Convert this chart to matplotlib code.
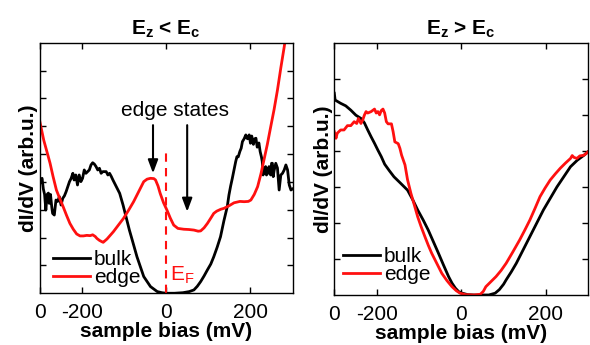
import matplotlib
matplotlib.use("Agg")
import matplotlib.pyplot as plt

plt.rcParams['font.family'] = ['Liberation Sans', 'DejaVu Sans']
plt.rcParams['mathtext.fontset'] = 'custom'
plt.rcParams['mathtext.rm'] = 'Liberation Sans'
plt.rcParams['mathtext.bf'] = 'Liberation Sans:bold'
plt.rcParams['mathtext.it'] = 'Liberation Sans:italic'

# ---------------- data: left panel (Ez < Ec) ----------------
bulk_left_x = [-300, -297, -294, -291, -288, -285, -282, -279, -277, -274, -271, -269, -265,
               -261, -257, -253, -249, -245, -241, -237, -233, -229, -225, -221, -218, -214,
               -210, -206, -202, -198, -194, -190, -186, -182, -178, -174, -170, -166, -162,
               -158, -154, -150, -146, -142, -138, -134, -130, -126, -118, -110, -102, -95,
               -87, -80, -69, -53, -37, -21, -10, 0, 20, 40, 55, 66, 74, 82, 90, 98, 106,
               113, 121, 129, 137, 145, 149, 153, 157, 161, 165, 168, 171, 175, 178, 181,
               185, 189, 191, 193, 197, 200, 203, 207, 210, 213, 216, 220, 223, 226, 228,
               230, 232, 236, 238, 240, 244, 246, 248, 250, 252, 254, 256, 260, 264, 268,
               272, 276, 280, 284, 288, 292, 296, 300]
bulk_left_y = [3.90, 4.05, 4.13, 3.75, 3.55, 2.99, 3.55, 3.60, 3.23, 3.55, 3.10, 2.87, 2.81,
               3.35, 3.30, 3.47, 3.17, 3.41, 3.50, 3.65, 3.83, 4.01, 4.13, 4.31, 4.07, 4.25,
               3.89, 4.25, 4.01, 4.13, 4.43, 4.31, 4.37, 4.43, 4.61, 4.69, 4.64, 4.55, 4.43,
               4.49, 4.31, 4.37, 4.37, 4.37, 4.25, 4.31, 4.20, 4.07, 3.83, 3.59, 3.17, 2.75,
               2.27, 1.90, 1.31, 0.60, 0.24, 0.06, 0.02, 0.00, 0.00, 0.02, 0.06, 0.12, 0.25,
               0.42, 0.62, 0.84, 1.05, 1.31, 1.65, 2.03, 2.60, 3.11, 3.53, 3.85, 4.13, 4.43,
               4.73, 4.91, 4.90, 5.10, 5.21, 5.45, 5.55, 5.69, 5.60, 5.55, 5.69, 5.39, 5.65,
               5.35, 5.55, 5.57, 5.25, 5.40, 5.09, 4.90, 4.73, 4.25, 4.40, 4.55, 4.25, 4.30,
               4.55, 4.30, 4.25, 4.67, 4.67, 4.19, 4.40, 4.67, 4.50, 3.71, 4.25, 4.31, 4.43,
               4.61, 4.43, 3.89, 3.71, 3.75]

edge_left_x = [-300, -290, -280, -275, -268, -260, -252, -244, -236, -228, -220, -212, -204,
               -196, -188, -180, -174, -168, -164, -158, -152, -149, -140, -125, -113, -101,
               -89, -77, -65, -53, -45, -37, -29, -25, -19, -14, -6, 2, 10, 18, 28, 42, 54,
               66, 76, 82, 90, 98, 106, 113, 120, 130, 137, 150, 161, 175, 185, 195, 201,
               209, 217, 225, 232, 240, 248, 256, 264, 272, 280, 288, 300]
edge_left_y = [6.22, 5.50, 4.95, 4.67, 4.20, 3.71, 3.40, 3.11, 2.80, 2.51, 2.30, 2.13, 2.06,
               2.06, 2.08, 2.07, 2.10, 2.04, 1.97, 1.90, 1.85, 1.83, 1.95, 2.21, 2.45, 2.69,
               2.98, 3.29, 3.65, 4.01, 4.10, 4.13, 4.12, 4.07, 3.85, 3.59, 3.25, 2.99, 2.70,
               2.45, 2.33, 2.30, 2.29, 2.27, 2.23, 2.24, 2.35, 2.51, 2.70, 2.87, 2.95, 3.02,
               3.05, 3.15, 3.25, 3.30, 3.29, 3.30, 3.35, 3.55, 3.83, 4.30, 4.79, 5.35, 5.98,
               6.60, 7.30, 8.10, 8.85, 9.70, 11.20]

# ---------------- data: right panel (Ez > Ec) ----------------
bulk_right_x = [-300, -298, -285, -273, -261, -249, -237, -229, -221, -213, -205, -197, -189,
                -181, -170, -159, -145, -127, -115, -103, -90, -78, -66, -54, -42, -30, -22,
                -14, -6, 2, 15, 30, 50, 65, 80, 90, 100, 106, 118, 130, 146, 162, 178, 194,
                210, 226, 242, 258, 274, 290, 300]
bulk_right_y = [5.60, 5.41, 5.32, 5.25, 5.13, 4.99, 4.90, 4.78, 4.58, 4.39, 4.21, 4.02, 3.84,
                3.63, 3.45, 3.28, 3.12, 2.91, 2.65, 2.36, 2.08, 1.80, 1.48, 1.16, 0.83, 0.51,
                0.33, 0.19, 0.09, 0.05, 0.01, 0.00, 0.00, 0.00, 0.05, 0.15, 0.30, 0.42, 0.64,
                0.88, 1.25, 1.62, 1.99, 2.36, 2.68, 3.00, 3.28, 3.56, 3.74, 3.88, 3.98]

edge_right_x = [-300, -296, -293, -285, -277, -269, -261, -253, -247, -243, -237, -233, -229,
                -225, -221, -213, -205, -201, -197, -193, -189, -185, -181, -177, -173, -165,
                -161, -157, -149, -145, -141, -133, -127, -119, -111, -103, -95, -86, -78,
                -70, -58, -46, -34, -22, -12, -3, 10, 30, 45, 52, 58, 70, 82, 94, 106, 122,
                138, 150, 162, 174, 186, 198, 210, 222, 234, 246, 258, 262, 266, 273, 280,
                290, 300]
edge_right_y = [4.53, 4.35, 4.49, 4.58, 4.58, 4.70, 4.70, 4.81, 4.76, 4.90, 4.76, 4.85, 4.99,
                5.09, 5.05, 5.09, 5.16, 5.05, 5.09, 5.00, 5.12, 5.16, 5.05, 4.81, 4.75, 4.75,
                4.53, 4.25, 4.20, 4.07, 3.88, 3.61, 3.20, 2.82, 2.50, 2.17, 1.90, 1.62, 1.38,
                1.16, 0.88, 0.60, 0.40, 0.23, 0.12, 0.05, 0.01, 0.00, 0.02, 0.10, 0.23, 0.37,
                0.51, 0.68, 0.88, 1.20, 1.53, 1.80, 2.08, 2.40, 2.73, 2.97, 3.19, 3.36, 3.52,
                3.66, 3.79, 3.87, 3.82, 3.79, 3.86, 3.88, 3.98]

xtick_pos = [-300, -200, 0, 200]
xtick_labels = ['0', '-200', '0', '200']
titles = [r'$\mathbf{E_z}$ < $\mathbf{E_c}$', r'$\mathbf{E_z}$ > $\mathbf{E_c}$']
ylims = [9, 7]

RED = '#ff1010'
FS = 15

fig = plt.figure(figsize=(5.9, 3.45), dpi=100)
ax1 = fig.add_axes([0.067, 0.150, 0.429, 0.726])
ax2 = fig.add_axes([0.5666, 0.145, 0.4305, 0.731])

series = [(ax1, bulk_left_x, bulk_left_y, edge_left_x, edge_left_y),
          (ax2, bulk_right_x, bulk_right_y, edge_right_x, edge_right_y)]
legend_anchor = [(0.03, 0.0), (0.01, 0.018)]

for i, (ax, bx, by, ex, ey) in enumerate(series):
    ax.plot(bx, by, color='black', lw=2.0, label='bulk')
    ax.plot(ex, ey, color=RED, lw=2.0, label='edge')
    ax.set_xlim(-300, 300)
    ax.set_ylim(0, ylims[i])
    ax.set_yticks(range(1, ylims[i]))
    ax.set_yticklabels([])
    ax.set_xticks(xtick_pos)
    ax.set_xticklabels(xtick_labels, fontsize=FS)
    ax.tick_params(direction='in', length=4, width=1, top=True, right=True, pad=7)
    ax.tick_params(axis='y', pad=2)
    for s in ax.spines.values():
        s.set_linewidth(1.0)
    ax.set_xlabel('sample bias (mV)', fontsize=FS, fontweight='bold', labelpad=0)
    ax.set_ylabel('dI/dV (arb.u.)', fontsize=FS, fontweight='bold', labelpad=-1)
    ax.set_title(titles[i], fontsize=FS, fontweight='bold', pad=6)
    ax.legend(loc='lower left', bbox_to_anchor=legend_anchor[i], frameon=False, fontsize=FS,
              handlelength=1.75, handletextpad=0.2, labelspacing=-0.05, borderpad=0.1,
              borderaxespad=0.2)

# annotations on left panel
ef_x = 0
ef_top = 5.09
ax1.plot([ef_x, ef_x], [0, ef_top], color=RED, lw=1.5, ls=(0, (4, 3)))
ax1.text(10, 0.45, r'$\mathrm{E_F}$', color=RED, fontsize=FS, ha='left', va='baseline')
ax1.text(20, 6.58, 'edge states', fontsize=FS, ha='center', va='center')
arrow_tips = [(-31, 4.31), (50, 2.93)]
for tx, ty in arrow_tips:
    ax1.annotate('', xy=(tx, ty), xytext=(tx, 6.04),
                 arrowprops=dict(arrowstyle='-|>,head_length=0.8,head_width=0.3',
                                 color='black', lw=1.5, shrinkA=0, shrinkB=0))

fig.savefig('out.png', dpi=100)
